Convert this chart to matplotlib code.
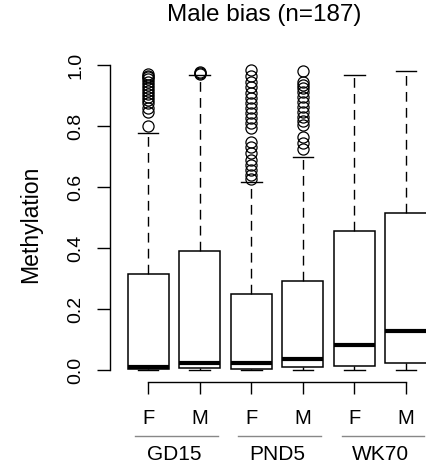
import matplotlib
matplotlib.use("Agg")
import matplotlib.pyplot as plt
from matplotlib.transforms import blended_transform_factory

plt.rcParams['font.family'] = ['Liberation Sans', 'DejaVu Sans']

title = "Male bias (n=187)"
ylabel = "Methylation"
groups = ["GD15", "PND5", "WK70"]
sexes = ["F", "M", "F", "M", "F", "M"]

q1 = [0.002, 0.005, 0.003, 0.010, 0.013, 0.022]
med = [0.010, 0.022, 0.024, 0.036, 0.083, 0.128]
q3 = [0.315, 0.390, 0.248, 0.293, 0.456, 0.516]
whislo = [0.0, 0.0, 0.0, 0.0, 0.0, 0.0]
whishi = [0.776, 0.967, 0.617, 0.697, 0.967, 0.981]

fliers_gd15_f = [0.800, 0.845, 0.860, 0.875, 0.885, 0.895, 0.905, 0.915,
                 0.925, 0.935, 0.945, 0.955, 0.960, 0.965, 0.970]
fliers_gd15_m = [0.970, 0.975, 0.976]
fliers_pnd5_f = [0.984, 0.964, 0.945, 0.929, 0.907, 0.891, 0.874, 0.858,
                 0.842, 0.825, 0.809, 0.792, 0.749, 0.732, 0.710, 0.689,
                 0.672, 0.656, 0.639, 0.625]
fliers_pnd5_m = [0.981, 0.945, 0.934, 0.923, 0.913, 0.896, 0.880, 0.863,
                 0.847, 0.830, 0.817, 0.803, 0.763, 0.743, 0.724]
fliers_wk70_f = []
fliers_wk70_m = []
fliers = [fliers_gd15_f, fliers_gd15_m, fliers_pnd5_f, fliers_pnd5_m,
          fliers_wk70_f, fliers_wk70_m]

yticks = [0.0, 0.2, 0.4, 0.6, 0.8, 1.0]
ytick_labels = ["0.0", "0.2", "0.4", "0.6", "0.8", "1.0"]

W, H = 427, 463
fig = plt.figure(figsize=(W / 100, H / 100), dpi=100)
ax = fig.add_axes([110 / W, 1 - 382.2 / H, (W - 110) / W, (382.2 - 52.8) / H])

stats = []
for i in range(6):
    stats.append(dict(med=med[i], q1=q1[i], q3=q3[i], whislo=whislo[i],
                      whishi=whishi[i], fliers=fliers[i]))
positions = list(range(1, 7))
ax.bxp(stats, positions=positions, widths=0.8, showfliers=True,
       patch_artist=True,
       boxprops=dict(facecolor='white', edgecolor='black', linewidth=1.1),
       medianprops=dict(color='black', linewidth=3.0, solid_capstyle='butt'),
       whiskerprops=dict(color='black', linewidth=1.0, linestyle=(0, (7, 4.5))),
       capprops=dict(color='black', linewidth=1.0),
       flierprops=dict(marker='o', markerfacecolor='none', markeredgecolor='black',
                       markersize=8, markeredgewidth=0.9),
       capwidths=0.4)

ax.set_xlim(0.26, 6.407)
ax.set_ylim(-0.04, 1.04)
for s in ['top', 'right']:
    ax.spines[s].set_visible(False)
ax.spines['left'].set_bounds(0, 1)
ax.spines['bottom'].set_bounds(1, 6)
ax.spines['left'].set_linewidth(1.0)
ax.spines['bottom'].set_linewidth(1.0)

ax.set_yticks(yticks)
ax.set_yticklabels(ytick_labels, rotation=90, va='center')
ax.set_xticks(positions)
ax.set_xticklabels(sexes)
ax.tick_params(axis='y', length=9.4, width=1.0, labelsize=14, pad=9)
ax.tick_params(axis='x', length=8.6, width=1.0, labelsize=14.5, pad=11)

trans = blended_transform_factory(ax.transData, fig.transFigure)
for k, g in enumerate(groups):
    x0 = 2 * k + 0.75
    x1 = 2 * k + 2.35
    ax.plot([x0, x1], [1 - 436 / H, 1 - 436 / H], transform=trans, color='#888888',
            linewidth=1.0, clip_on=False)
    ax.text(2 * k + 1.5, 1 - 460 / H, g, transform=trans, ha='center',
            va='baseline', fontsize=15)

fig.text(263.7 / W, 1 - 21 / H, title, ha='center', va='baseline', fontsize=17.5)
fig.text(31 / W, 1 - 224 / H, ylabel, ha='center', va='center', rotation=90,
         fontsize=16.6)

fig.savefig("out.png", dpi=100)
